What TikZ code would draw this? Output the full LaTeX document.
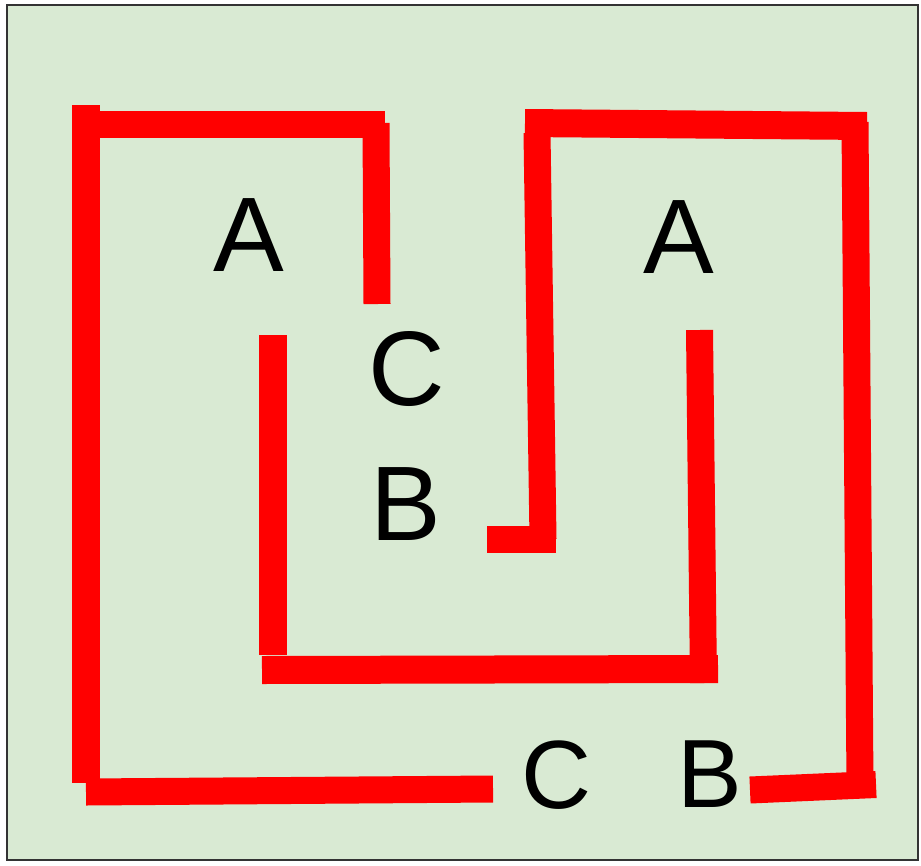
\documentclass[tikz,border=0pt]{standalone}
\usepackage{fontspec}
\setmainfont{Liberation Sans}
\definecolor{bggreen}{HTML}{D9EAD3}
\definecolor{framegray}{HTML}{333333}
\begin{document}
\begin{tikzpicture}[x=1pt,y=-1pt,
  wall/.style={draw=red,line width=27pt,line cap=butt},
  letter/.style={inner sep=0pt,anchor=center,font=\fontsize{106}{120}\selectfont},
  letterS/.style={inner sep=0pt,anchor=center,font=\fontsize{97}{110}\selectfont}]
\useasboundingbox (0,0) rectangle (921,865);
\draw[framegray,line width=2pt,fill=bggreen] (7,5) rectangle (918,860);
% left outer path
\coordinate (l1) at (86,105);
\coordinate (l2) at (86,783);
\draw[wall,line width=28pt] (l1) -- (l2);
\coordinate (t1) at (90,124);
\coordinate (t2) at (385,124);
\draw[wall] (t1) -- (t2);
\coordinate (v1) at (376,123);
\coordinate (v2) at (377,304);
\draw[wall] (v1) -- (v2);
% inner U
\coordinate (i1) at (273,335);
\coordinate (i2) at (273,655);
\draw[wall,line width=28pt] (i1) -- (i2);
\coordinate (ib1) at (262,670);
\coordinate (ib2) at (718,669);
\draw[wall,line width=28pt] (ib1) -- (ib2);
\coordinate (ir1) at (699.5,330);
\coordinate (ir2) at (703.5,683);
\draw[wall] (ir1) -- (ir2);
% middle and right path
\coordinate (m1) at (537,133);
\coordinate (m2) at (543,539);
\draw[wall,line width=27pt] (m1) -- (m2);
\coordinate (mb1) at (487,539);
\coordinate (mb2) at (556,539);
\draw[wall] (mb1) -- (mb2);
\coordinate (tr1) at (525,123);
\coordinate (tr2) at (867,126);
\draw[wall,line width=28pt] (tr1) -- (tr2);
\coordinate (r1) at (855,122);
\coordinate (r2) at (860,786);
\draw[wall] (r1) -- (r2);
\coordinate (br1) at (750,790);
\coordinate (br2) at (876,784.5);
\draw[wall] (br1) -- (br2);
\coordinate (bl1) at (86,792);
\coordinate (bl2) at (493,789);
\draw[wall] (bl1) -- (bl2);
% letters
\node[letter] (A1) at (249,235) {A};
\node[letter] (A2) at (679,237) {A};
\node[letter] (C1) at (407,369) {C};
\node[letter] (B1) at (406,504) {B};
\node[letterS] (C2) at (557,775) {C};
\node[letterS] (B2) at (710,774.5) {B};
\end{tikzpicture}
\end{document}
